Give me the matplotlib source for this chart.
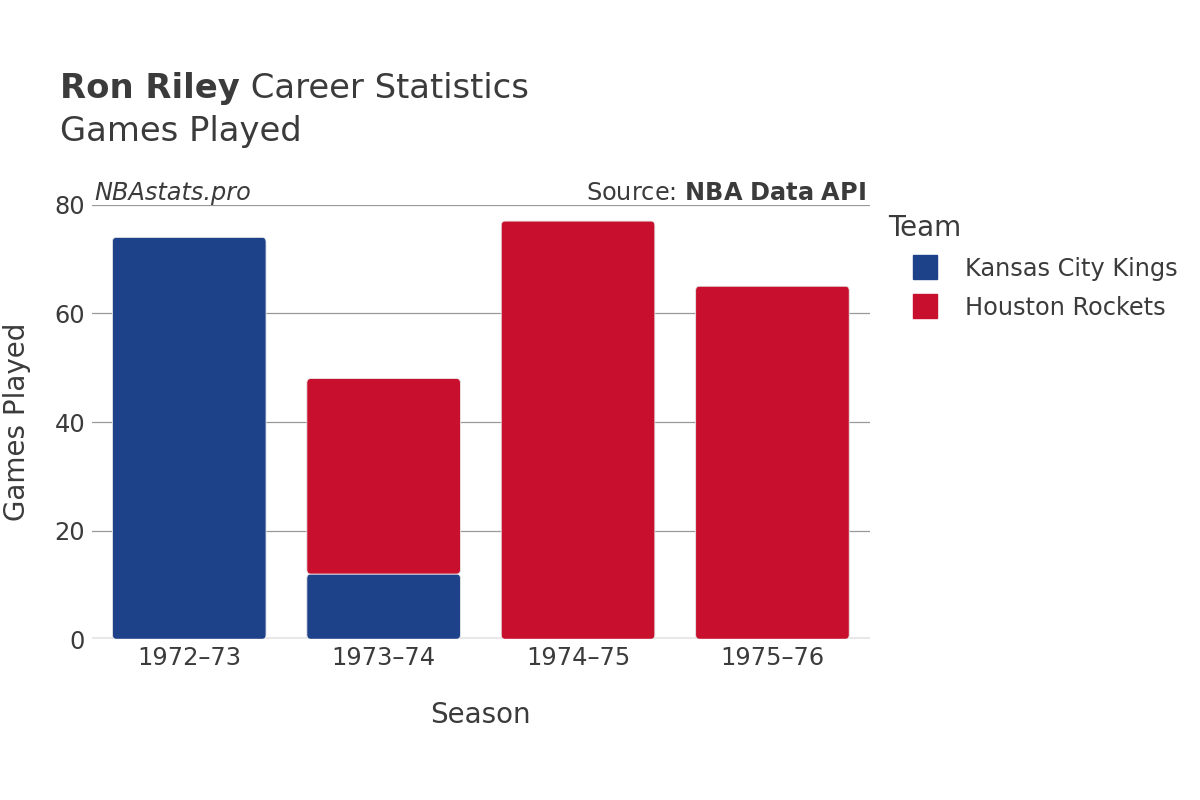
import matplotlib
matplotlib.use("Agg")
import matplotlib.pyplot as plt
from matplotlib.patches import FancyBboxPatch
from matplotlib.lines import Line2D
import numpy as np

seasons = ["1972\u201373", "1973\u201374", "1974\u201375", "1975\u201376"]
kings = [74, 12, 0, 0]
rockets = [0, 36, 77, 65]
teams = ["Kansas City Kings", "Houston Rockets"]
colors = ["#1d428a", "#c8102e"]

txt = "#3b3b3b"
plt.rcParams["font.family"] = ["DejaVu Sans"]

fig = plt.figure(figsize=(12, 8), dpi=100)
ax = fig.add_axes([0.0767, 0.201, 0.648, 0.543])

x = np.arange(len(seasons))
w = 0.79


def rbar(ax, xc, bottom, height, color):
    # bar with slightly rounded corners
    if height <= 0:
        return
    p = FancyBboxPatch((xc - w / 2, bottom), w, height,
                       boxstyle="round,pad=0,rounding_size=0.02",
                       mutation_aspect=40,
                       facecolor=color, edgecolor="#e6e6e6", linewidth=0.6,
                       zorder=3)
    ax.add_patch(p)


for i in range(len(seasons)):
    rbar(ax, x[i], 0, kings[i], colors[0])
    rbar(ax, x[i], kings[i], rockets[i], colors[1])

ax.set_xlim(-0.5, len(seasons) - 0.5)
ax.set_ylim(0, 80)
ax.set_yticks([0, 20, 40, 60, 80])
ax.set_xticks(x)
ax.set_xticklabels(seasons)
ax.grid(axis="y", color="#999999", linewidth=0.9, zorder=0)
ax.axhline(0, color="#e8e8e8", linewidth=3, zorder=2)
for s in ax.spines.values():
    s.set_visible(False)
ax.tick_params(length=0, labelsize=17.4, colors=txt, pad=5)
ax.set_xlabel("Season", fontsize=20, color=txt, labelpad=22)
ax.set_ylabel("Games Played", fontsize=20, color=txt, va="center")
ax.yaxis.set_label_coords(-0.0965, 0.5)

ax.text(0.003, 1.0, "NBAstats.pro", transform=ax.transAxes, fontsize=17.3,
        style="italic", color=txt, va="bottom", ha="left")
ax.text(0.995, 1.0, r"Source: $\bf{NBA\ Data\ API}$", transform=ax.transAxes,
        fontsize=17.3, color=txt, va="bottom", ha="right")

fig.text(0.05, 0.889, "Ron Riley", fontsize=24.4, fontweight="bold", color=txt,
         va="center", ha="left")
fig.text(0.2, 0.889, " Career Statistics", fontsize=24.4, color=txt,
         va="center", ha="left")
fig.text(0.05, 0.835, "Games Played", fontsize=24.4, color=txt,
         va="center", ha="left")

handles = [Line2D([0], [0], marker="s", linestyle="", markersize=17,
                  markerfacecolor=c, markeredgecolor=c) for c in colors]
leg = fig.legend(handles, teams, loc="upper left", bbox_to_anchor=(0.7305, 0.748),
                 frameon=False, fontsize=17.3, title="Team", title_fontsize=20,
                 handlelength=3.04, handletextpad=0.15, labelspacing=0.63,
                 borderpad=0)
leg._legend_box.align = "left"
for t in leg.get_texts():
    t.set_color(txt)
leg.get_title().set_color(txt)

fig.canvas.draw()
# place the non-bold part of the title right after the bold part
r = fig.canvas.get_renderer()
bb = fig.texts[0].get_window_extent(renderer=r)
fig.texts[1].set_x(bb.x1 / fig.bbox.width)

fig.savefig("out.png", dpi=100)
